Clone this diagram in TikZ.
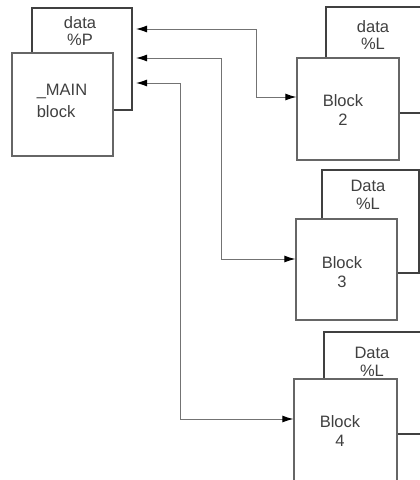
\documentclass[tikz,border=0pt]{standalone}
\usepackage{fontspec}
\setmainfont{Liberation Sans}
\usetikzlibrary{arrows.meta}

\tikzset{
    backbox/.style={draw=black!75, line width=1.5pt, fill=white, inner sep=0pt},
    frontbox/.style={draw=black!60, line width=1.2pt, fill=white, inner sep=0pt},
    txt/.style={text=black!75, align=center, font=\fontsize{16.5}{19.5}\selectfont},
    link/.style={draw=black!55, line width=1pt,
        {Latex[length=11pt,width=7pt,color=black]}-{Latex[length=11pt,width=7pt,color=black]}}
}

\begin{document}
\begin{tikzpicture}[x=1pt, y=-1pt]
    \useasboundingbox (0,0) rectangle (420,480);
    \clip (0,0) rectangle (420,480);

    % --- Bloc principal ---
    \node[backbox, minimum width=100pt, minimum height=102pt] (mainback) at (82,59) {};
    \node[txt] (maintop) at (80,31) {data\\[-2pt]\%P};
    \node[frontbox, minimum width=101pt, minimum height=103pt] (main) at (62.5,104.5) {};
    \node[txt, align=left] (mainname) at (62,101) {\_MAIN\\[3pt]block};

    % --- Block 2 ---
    \node[backbox, minimum width=120pt, minimum height=106pt] (b2back) at (386,60) {};
    \node[txt] (b2top) at (373,35) {data\\[-2pt]\%L};
    \node[frontbox, minimum width=102pt, minimum height=102pt] (b2) at (348,109) {};
    \node[txt] (b2name) at (343,110) {Block\\2};

    % --- Block 3 ---
    \node[backbox, minimum width=97pt, minimum height=103pt] (b3back) at (370.5,221.5) {};
    \node[txt] (b3top) at (368,195) {Data\\[-2pt]\%L};
    \node[frontbox, minimum width=101pt, minimum height=101pt] (b3) at (346.5,269.5) {};
    \node[txt] (b3name) at (342,272) {Block\\3};

    % --- Block 4 ---
    \node[backbox, minimum width=116pt, minimum height=102pt] (b4back) at (382,383) {};
    \node[txt] (b4top) at (372,362) {Data\\[-2pt]\%L};
    \node[frontbox, minimum width=103pt, minimum height=102pt] (b4) at (345.5,430) {};
    \node[txt] (b4name) at (340,431) {Block\\4};

    % --- Liaisons ---
    \coordinate (m1) at (136,29);
    \coordinate (m2) at (136,58);
    \coordinate (m3) at (136,83);
    \coordinate (k1) at (256,97);
    \coordinate (k2) at (221,259);
    \coordinate (k3) at (180,419);

    \draw[link] (m1) -| (k1) -- (k1 -| b2.west);
    \draw[link] (m2) -| (k2) -- (k2 -| b3.west);
    \draw[link] (m3) -| (k3) -- (k3 -| b4.west);

\end{tikzpicture}
\end{document}
